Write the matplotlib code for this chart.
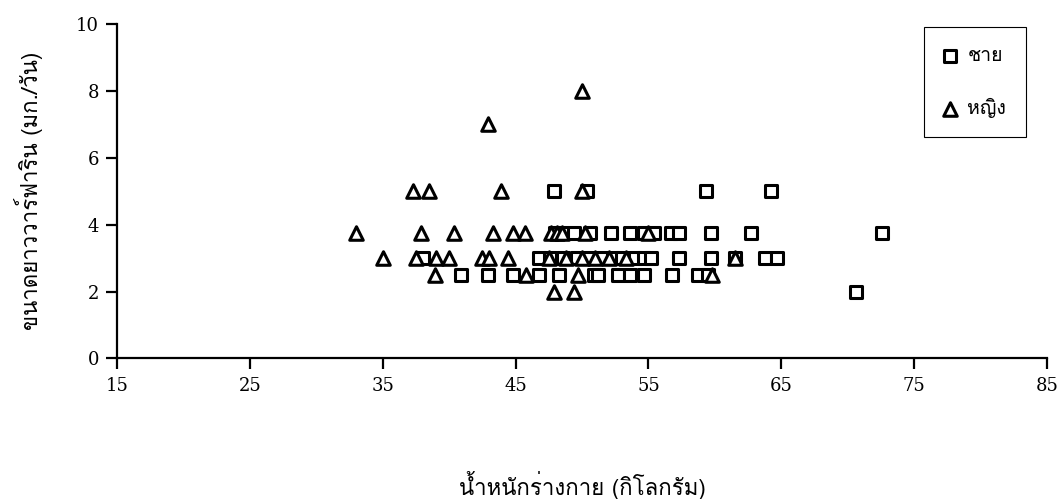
import matplotlib
matplotlib.use('Agg')
import matplotlib.pyplot as plt
from matplotlib import font_manager
from matplotlib.ft2font import FT2Font

# Data: body weight (kg) vs. size (mm/day)
men_x = [47.9, 50.4, 59.3, 64.2,
         48.0, 48.5, 49.4, 50.6, 52.2, 53.6, 54.7, 55.4, 56.7, 57.3, 59.7, 62.7, 72.6,
         38.0, 46.8, 47.6, 48.6, 49.6, 50.5, 51.5, 52.3, 53.0, 54.0, 54.7, 55.2, 57.3,
         59.7, 61.5, 63.8, 64.7,
         40.9, 42.9, 44.8, 46.8, 48.3, 50.9, 51.2, 52.7, 53.6, 54.7, 56.8, 58.7, 59.5,
         70.6]
men_y = [5, 5, 5, 5,
         3.75, 3.75, 3.75, 3.75, 3.75, 3.75, 3.75, 3.75, 3.75, 3.75, 3.75, 3.75, 3.75,
         3, 3, 3, 3, 3, 3, 3, 3, 3, 3, 3, 3, 3,
         3, 3, 3, 3,
         2.5, 2.5, 2.5, 2.5, 2.5, 2.5, 2.5, 2.5, 2.5, 2.5, 2.5, 2.5, 2.5,
         2]

women_x = [50.0, 42.9,
           37.3, 38.5, 43.9, 50.0,
           33.0, 37.9, 40.4, 43.3, 44.8, 45.7, 47.7, 48.1, 48.5, 50.2, 55.0,
           35.0, 37.5, 39.0, 40.0, 42.5, 43.0, 44.4, 47.5, 48.8, 50.0, 51.0, 52.0, 53.3, 61.5,
           38.9, 45.8, 49.7, 59.8,
           47.9, 49.4]
women_y = [8, 7,
           5, 5, 5, 5,
           3.75, 3.75, 3.75, 3.75, 3.75, 3.75, 3.75, 3.75, 3.75, 3.75, 3.75,
           3, 3, 3, 3, 3, 3, 3, 3, 3, 3, 3, 3, 3, 3,
           2.5, 2.5, 2.5, 2.5,
           2, 2]

x_ticks = [15, 25, 35, 45, 55, 65, 75, 85]
y_ticks = [0, 2, 4, 6, 8, 10]


def thai_family():
    # find an installed font that has Thai glyphs
    for f in font_manager.fontManager.ttflist:
        try:
            cmap = FT2Font(f.fname).get_charmap()
        except Exception:
            continue
        if 0x0E0A in cmap and 0x0E34 in cmap:
            return f.name
    return 'DejaVu Sans'


thai = [thai_family(), 'DejaVu Sans']
num_font = 'DejaVu Serif'

fig = plt.figure(figsize=(10.57, 4.99), dpi=100)
ax = fig.add_axes([0.1107, 0.2816, 0.8798, 0.6703])

ax.scatter(men_x, men_y, marker='s', s=80, facecolors='white',
           edgecolors='black', linewidths=2.2, label='ชาย', zorder=3)
ax.scatter(women_x, women_y, marker='^', s=95, facecolors='white',
           edgecolors='black', linewidths=2.2, label='หญิง', zorder=3)

ax.set_xlim(15, 85)
ax.set_ylim(0, 10)
ax.set_xticks(x_ticks)
ax.set_yticks(y_ticks)

for s in ['top', 'right']:
    ax.spines[s].set_visible(False)
for s in ['left', 'bottom']:
    ax.spines[s].set_linewidth(1.6)
    ax.spines[s].set_color('black')

ax.tick_params(axis='x', direction='out', length=8, width=1.6, pad=5)
ax.tick_params(axis='y', direction='out', length=8, width=1.6, pad=5)
for lbl in ax.get_xticklabels() + ax.get_yticklabels():
    lbl.set_fontfamily(num_font)
    lbl.set_fontsize(13)

ax.set_xlabel('น้ำหนักร่างกาย (กิโลกรัม)', family=thai, fontsize=16)
ax.xaxis.set_label_coords(0.5, -0.335)
ax.set_ylabel('ขนาดยาววาร์ฟาริน (มก./วัน)', family=thai, fontsize=16)
ax.yaxis.set_label_coords(-0.08, 0.5)

leg = ax.legend(loc='upper right', bbox_to_anchor=(0.977, 0.99), borderaxespad=0,
                prop={'family': thai, 'size': 14}, labelspacing=1.7,
                handlelength=0.6, handletextpad=0.6, borderpad=1.0,
                fancybox=False, edgecolor='black', framealpha=1)
leg.get_frame().set_linewidth(0.8)

fig.savefig('out.png', dpi=100)
